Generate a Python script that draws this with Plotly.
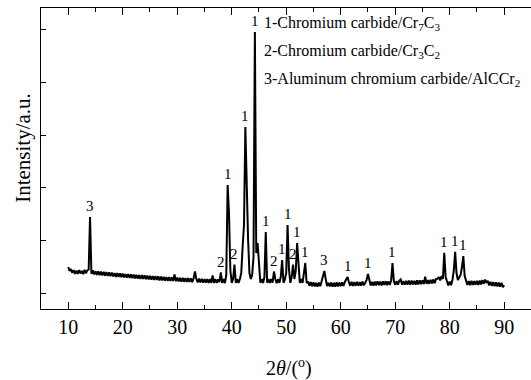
import numpy as np
import plotly.graph_objects as go

# XRD scan: 2theta from 10 to 90 deg, step 0.25 deg
two_theta = np.round(np.arange(10.0, 90.0001, 0.25), 2)

# intensity (a.u.), four readings per degree
intensity = [
    420, 380, 398, 362,   # 10
    388, 352, 384, 350,   # 11
    390, 356, 380, 348,   # 12
    392, 358, 386, 395,   # 13
    920, 350, 388, 346,   # 14
    380, 342, 376, 338,   # 15
    374, 336, 372, 334,   # 16
    368, 330, 366, 328,   # 17
    364, 326, 360, 322,   # 18
    358, 320, 356, 318,   # 19
    354, 316, 350, 314,   # 20
    348, 312, 346, 308,   # 21
    344, 306, 342, 304,   # 22
    340, 302, 338, 300,   # 23
    336, 298, 334, 296,   # 24
    332, 294, 330, 290,   # 25
    328, 290, 326, 286,   # 26
    324, 286, 322, 284,   # 27
    320, 282, 318, 280,   # 28
    316, 280, 345, 278,   # 29
    314, 276, 312, 274,   # 30
    312, 272, 310, 270,   # 31
    308, 270, 306, 268,   # 32
    304, 375, 302, 266,   # 33
    304, 266, 302, 264,   # 34
    300, 264, 298, 262,   # 35
    300, 262, 335, 260,   # 36
    298, 260, 296, 270,   # 37
    365, 262, 300, 258,   # 38
    340, 1240, 960, 390,  # 39
    262, 300, 445, 260,   # 40
    298, 262, 300, 360,   # 41
    620, 840, 1820, 1120, # 42
    700, 360, 300, 340,   # 43
    520, 2770, 560, 660,  # 44
    420, 262, 300, 260,   # 45
    320, 770, 262, 300,   # 46
    262, 300, 264, 375,   # 47
    300, 258, 298, 262,   # 48
    320, 490, 262, 296,   # 49
    360, 840, 400, 262,   # 50
    320, 445, 300, 380,   # 51
    660, 420, 260, 300,   # 52
    262, 360, 460, 258,   # 53
    275, 232, 270, 228,   # 54
    266, 226, 262, 224,   # 55
    264, 228, 290, 330,   # 56
    380, 300, 230, 262,   # 57
    226, 264, 224, 262,   # 58
    224, 266, 226, 264,   # 59
    228, 266, 232, 270,   # 60
    290, 320, 270, 232,   # 61
    272, 230, 270, 232,   # 62
    272, 232, 270, 234,   # 63
    274, 236, 262, 290,   # 64
    350, 290, 236, 272,   # 65
    234, 274, 236, 276,   # 66
    238, 274, 236, 276,   # 67
    240, 278, 238, 276,   # 68
    240, 285, 460, 280,   # 69
    240, 280, 244, 282,   # 70
    295, 244, 280, 242,   # 71
    282, 244, 284, 242,   # 72
    284, 246, 282, 244,   # 73
    286, 246, 288, 248,   # 74
    286, 250, 322, 252,   # 75
    290, 252, 292, 256,   # 76
    296, 258, 300, 302,   # 77
    320, 285, 330, 300,   # 78
    563, 320, 262, 235,   # 79
    275, 238, 290, 380,   # 80
    573, 360, 290, 320,   # 81
    340, 420, 530, 330,   # 82
    270, 240, 280, 238,   # 83
    282, 240, 280, 242,   # 84
    282, 240, 284, 246,   # 85
    290, 252, 295, 260,   # 86
    282, 236, 272, 232,   # 87
    270, 228, 266, 226,   # 88
    264, 222, 262, 218,   # 89
    238,                  # 90
]

# phase labels of the diffraction peaks
peak_pos = [14.0, 38.0, 39.25, 40.5, 42.5, 44.25, 46.25, 47.75, 49.25, 50.25,
            51.25, 52.0, 53.5, 57.0, 61.25, 65.0, 69.5, 79.0, 81.0, 82.5]
peak_phase = ["3", "2", "1", "2", "1", "1", "1", "2", "1", "1",
              "2", "1", "1", "3", "1", "1", "1", "1", "1", "1"]

legend_lines = [
    "1-Chromium carbide/Cr<sub>7</sub>C<sub>3</sub>",
    "2-Chromium carbide/Cr<sub>3</sub>C<sub>2</sub>",
    "3-Aluminum chromium carbide/AlCCr<sub>2</sub>",
]

x_ticks = [10, 20, 30, 40, 50, 60, 70, 80, 90]

SERIF = "Liberation Serif"

fig = go.Figure()
fig.add_trace(go.Scatter(x=two_theta, y=intensity, mode="lines",
                         line=dict(color="black", width=2),
                         showlegend=False, hoverinfo="skip"))

lookup = dict(zip([float(v) for v in two_theta], intensity))
annotations = []
for p, t in zip(peak_pos, peak_phase):
    annotations.append(dict(x=p, y=lookup[float(p)], text=t, showarrow=False,
                            xref="x", yref="y", yanchor="middle", yshift=11,
                            font=dict(family=SERIF, size=15, color="#000000")))

for i, line in enumerate(legend_lines):
    annotations.append(dict(x=0.451, y=0.950 - i * 0.093, xref="paper", yref="paper",
                            text=line, showarrow=False, xanchor="left", yanchor="middle",
                            font=dict(family=SERIF, size=16, color="#000000")))

annotations.append(dict(x=0.507, y=-0.193, xref="paper", yref="paper",
                        text="2<i>θ</i>/(<sup>o</sup>)", showarrow=False,
                        xanchor="center", yanchor="middle",
                        font=dict(family=SERIF, size=20, color="#000000")))
annotations.append(dict(x=-0.037, y=0.535, xref="paper", yref="paper",
                        text="Intensity/a.u.", showarrow=False, textangle=-90,
                        xanchor="center", yanchor="middle",
                        font=dict(family=SERIF, size=21, color="#000000")))

fig.update_layout(
    width=531, height=380,
    margin=dict(l=41, r=0, t=8, b=71),
    paper_bgcolor="white", plot_bgcolor="white",
    annotations=annotations,
    xaxis=dict(range=[5, 94.92], tickvals=x_ticks, ticks="inside", ticklen=7,
               tickwidth=1, tickcolor="black",
               minor=dict(ticks="inside", dtick=5, tick0=5, ticklen=4, tickcolor="black"),
               showline=True, linecolor="black", linewidth=1.3, mirror="ticks",
               showgrid=False, zeroline=False,
               tickfont=dict(family=SERIF, size=20, color="#000000")),
    yaxis=dict(range=[0, 3010], tick0=157, dtick=527, ticks="inside", ticklen=5,
               tickwidth=1, tickcolor="black", showticklabels=False,
               showline=True, linecolor="black", linewidth=1.3, mirror=False,
               showgrid=False, zeroline=False),
)

fig.write_html("out.html")
